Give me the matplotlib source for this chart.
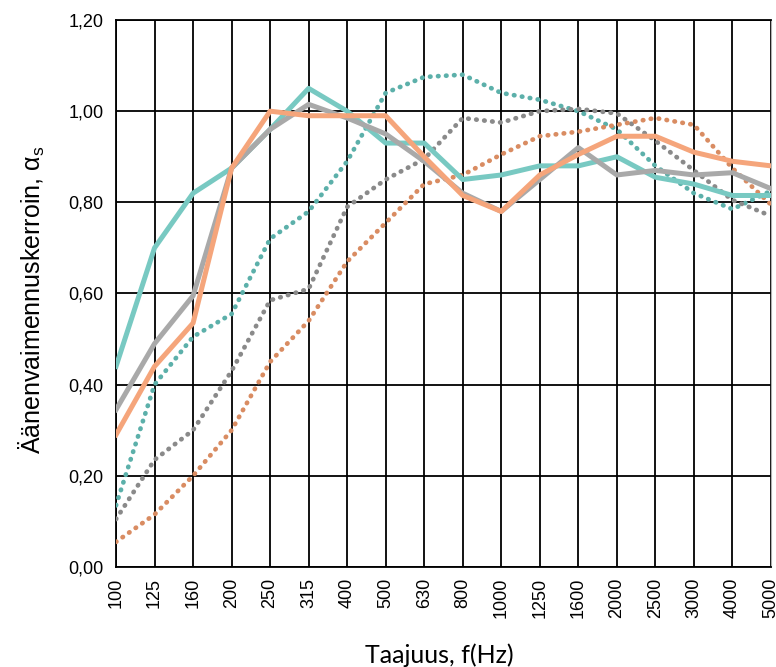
import matplotlib
matplotlib.use("Agg")
import matplotlib.pyplot as plt

plt.rcParams["font.family"] = ["Liberation Sans", "DejaVu Sans"]

freqs = ["100", "125", "160", "200", "250", "315", "400", "500", "630", "800",
         "1000", "1250", "1600", "2000", "2500", "3000", "4000", "5000"]

teal_solid = [0.44, 0.70, 0.82, 0.875, 0.96, 1.05, 1.00, 0.93, 0.93, 0.85,
              0.86, 0.88, 0.88, 0.90, 0.855, 0.84, 0.815, 0.815]
gray_solid = [0.345, 0.49, 0.595, 0.875, 0.96, 1.015, 0.985, 0.95, 0.89, 0.82,
              0.78, 0.85, 0.92, 0.86, 0.87, 0.86, 0.865, 0.83]
orange_solid = [0.29, 0.44, 0.535, 0.875, 1.00, 0.99, 0.99, 0.99, 0.90, 0.815,
                0.78, 0.86, 0.905, 0.945, 0.945, 0.91, 0.89, 0.88]
teal_dotted = [0.135, 0.40, 0.505, 0.555, 0.72, 0.78, 0.89, 1.04, 1.075, 1.08,
               1.04, 1.025, 1.00, 0.96, 0.88, 0.82, 0.785, 0.825]
gray_dotted = [0.105, 0.235, 0.30, 0.43, 0.585, 0.61, 0.79, 0.85, 0.895, 0.985,
               0.975, 1.00, 1.005, 0.995, 0.935, 0.87, 0.805, 0.77]
orange_dotted = [0.055, 0.115, 0.20, 0.30, 0.45, 0.54, 0.67, 0.755, 0.84, 0.86,
                 0.905, 0.945, 0.955, 0.97, 0.985, 0.97, 0.875, 0.795]

y_ticks = [0.0, 0.2, 0.4, 0.6, 0.8, 1.0, 1.2]

fig = plt.figure(figsize=(7.76, 6.67), dpi=100, facecolor="white")
ax = fig.add_axes([0.1495, 0.15, 0.844, 0.82])

x = list(range(len(freqs)))
dots = (0, (0.1, 1.6))

# dotted series first, solid lines on top
ax.plot(x, teal_dotted, color="#5cb0aa", linewidth=3.4, linestyle=dots,
        dash_capstyle="round", zorder=3)
ax.plot(x, gray_dotted, color="#8a8a8a", linewidth=3.4, linestyle=dots,
        dash_capstyle="round", zorder=3)
ax.plot(x, orange_dotted, color="#d98c62", linewidth=3.4, linestyle=dots,
        dash_capstyle="round", zorder=3)
ax.plot(x, teal_solid, color="#78c9c2", linewidth=3.6, zorder=4)
ax.plot(x, gray_solid, color="#a9a9a9", linewidth=3.6, zorder=4)
ax.plot(x, orange_solid, color="#f5a57b", linewidth=3.6, zorder=5)

ax.set_xlim(0, len(freqs) - 1)
ax.set_ylim(0, 1.2)
ax.set_xticks(x)
ax.set_xticklabels(freqs, rotation=90)
ax.set_yticks(y_ticks)
ax.set_yticklabels([f"{v:.2f}".replace(".", ",") for v in y_ticks])
ax.tick_params(axis="both", length=0, labelsize=13)
ax.tick_params(axis="x", pad=8)
ax.tick_params(axis="y", pad=9)

ax.grid(True, color="black", linewidth=1.3, zorder=1)
ax.set_axisbelow(True)
for side in ["left", "bottom", "top"]:
    ax.spines[side].set_linewidth(1.3)
ax.spines["right"].set_color("#b0b0b0")

ax.set_xlabel("Taajuus, f(Hz)", family="Lato", fontsize=18)
ax.xaxis.set_label_coords(0.493, -0.139)
ax.set_ylabel("Äänenvaimennuskerroin, α$_\\mathregular{s}$", fontsize=18)
ax.yaxis.set_label_coords(-0.105, 0.488)

fig.savefig("out.png", facecolor=fig.get_facecolor())
